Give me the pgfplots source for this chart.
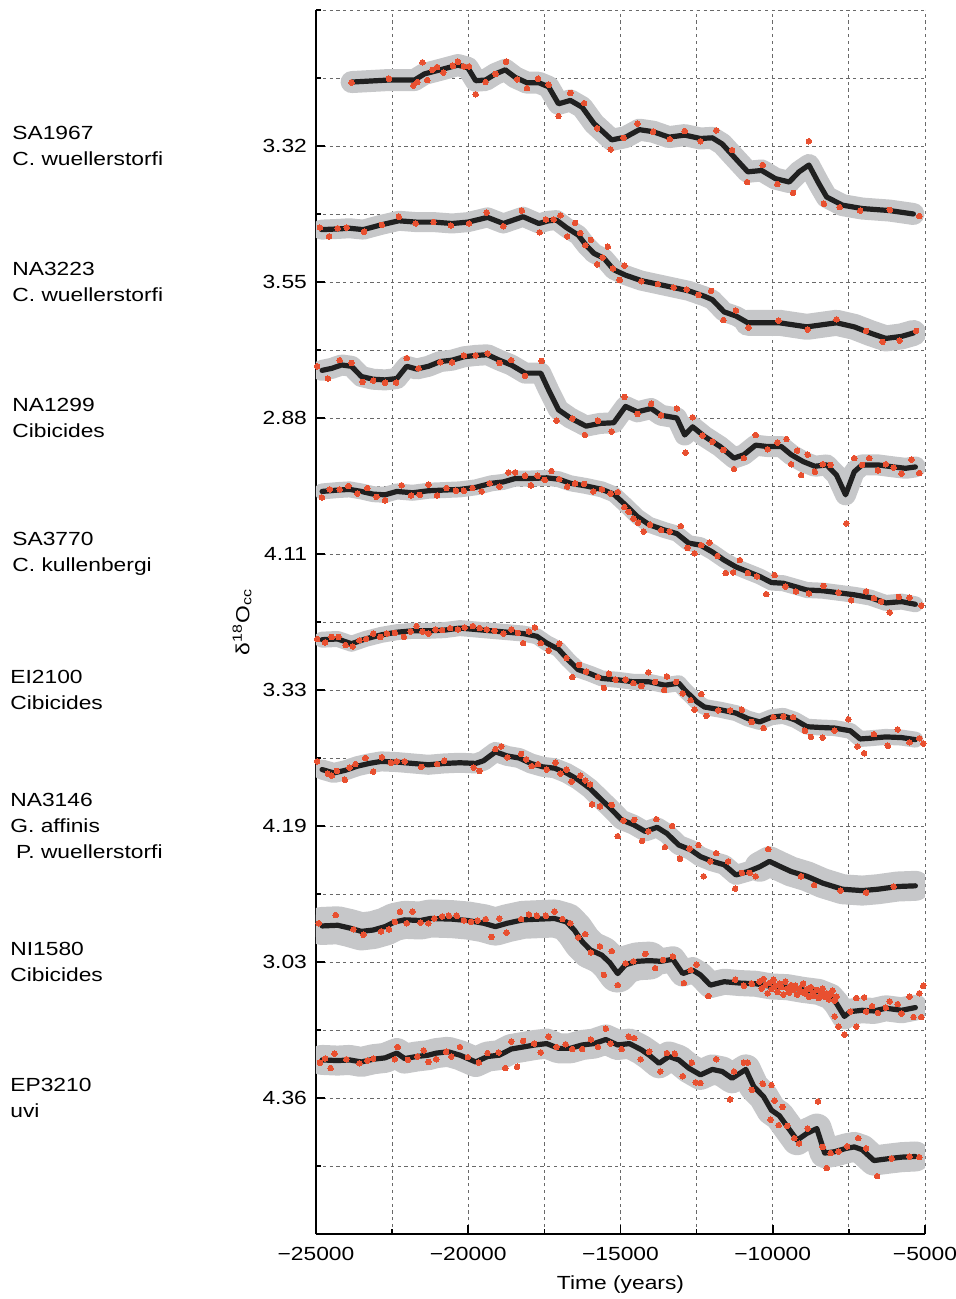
\documentclass[border=0pt]{standalone}
\usepackage{fontspec}
\setmainfont{Liberation Sans}[FakeStretch=1.2]
\usepackage{pgfplots}
\usepackage{pgfplotstable}
\pgfplotsset{compat=1.18}
\definecolor{bandgray}{RGB}{198,199,201}
\definecolor{dotred}{RGB}{232,80,48}
\definecolor{linedark}{RGB}{32,32,32}
\definecolor{gridgray}{RGB}{105,105,105}

% ---------------- SA1967 ----------------
\pgfplotstableread{
t u
-23830 16.94
-22604 16.97
-21762 16.97
-21439 17.06
-20921 17.12
-20338 17.19
-20014 17.15
-19755 16.96
-19431 16.97
-19108 17.06
-18784 17.12
-18460 17.01
-18072 16.93
-17683 16.93
-17360 16.87
-17036 16.62
-16647 16.67
-16259 16.57
-15870 16.33
-15288 16.09
-14834 16.13
-14381 16.24
-13928 16.21
-13410 16.13
-12892 16.16
-12374 16.11
-11985 16.12
-11661 16.03
-11273 15.84
-10820 15.62
-10366 15.64
-9913 15.52
-9460 15.47
-9136 15.62
-8812 15.72
-8489 15.45
-8230 15.25
-7712 15.13
-7064 15.08
-6158 15.05
-5381 15.00
}\lineA
\pgfplotstableread{
t u
-23834 16.93
-22604 16.99
-21801 16.89
-21672 16.94
-21503 17.23
-21348 16.97
-21179 17.12
-21024 17.16
-20817 17.08
-20506 17.18
-20338 17.24
-20143 17.17
-19975 17.17
-19755 16.76
-19431 16.94
-19107 17.06
-18758 17.24
-18395 16.98
-18071 16.85
-17709 16.99
-17359 16.90
-17035 16.44
-16647 16.78
-16194 16.63
-15766 16.26
-15326 15.95
-14899 16.12
-14445 16.33
-13927 16.21
-13384 16.10
-12891 16.22
-12373 16.07
-11855 16.23
-11337 15.94
-10845 15.47
-10327 15.72
-9848 15.44
-9330 15.31
-8812 16.07
-8320 15.15
-7802 15.10
-7129 15.05
-6157 15.06
-5186 14.97
}\dotsA
% ---------------- NA3223 ----------------
\pgfplotstableread{
t u
-24820 14.77
-24288 14.78
-23899 14.79
-23446 14.77
-22863 14.84
-22280 14.90
-21697 14.88
-21115 14.88
-20532 14.86
-20014 14.88
-19366 14.95
-18848 14.86
-18201 14.96
-17683 14.86
-17359 14.90
-17100 14.91
-16776 14.80
-16388 14.69
-16129 14.54
-15870 14.42
-15546 14.35
-15222 14.18
-14834 14.10
-14316 14.02
-13798 13.97
-13280 13.92
-12762 13.87
-12244 13.79
-11985 13.74
-11596 13.56
-11208 13.50
-10819 13.40
-10301 13.40
-9783 13.40
-8877 13.34
-7906 13.40
-7323 13.34
-6805 13.25
-6287 13.17
-5769 13.20
-5380 13.25
}\lineB
\pgfplotstableread{
t u
-24870 14.80
-24572 14.67
-24288 14.79
-23990 14.80
-23420 14.74
-22837 14.84
-22280 14.96
-21723 14.86
-21141 14.88
-20571 14.83
-19975 14.86
-19392 15.02
-18848 14.82
-18240 15.05
-17657 14.73
-17450 14.92
-17191 14.92
-16971 14.98
-16751 14.67
-16492 14.87
-16323 14.72
-16155 14.54
-15974 14.62
-15766 14.26
-15585 14.36
-15417 14.52
-15248 14.20
-15028 14.03
-14873 14.24
-14316 14.01
-13772 13.97
-13254 13.92
-12827 13.89
-12438 13.81
-12024 13.87
-11622 13.44
-11208 13.58
-10794 13.33
-9809 13.43
-8851 13.30
-7906 13.45
-6934 13.28
-6391 13.12
-5834 13.14
-5290 13.28
}\dotsB
% ---------------- NA1299 ----------------
\pgfplotstableread{
t u
-24800 12.70
-24482 12.73
-24158 12.78
-23834 12.76
-23510 12.61
-23122 12.57
-22733 12.56
-22345 12.58
-22021 12.76
-21697 12.72
-21309 12.76
-20920 12.83
-20532 12.85
-20143 12.90
-19755 12.92
-19366 12.93
-18978 12.85
-18589 12.78
-18136 12.66
-17618 12.66
-17359 12.41
-17035 12.12
-16647 12.00
-16129 11.88
-15676 11.92
-15222 11.93
-14834 12.17
-14445 12.09
-13992 12.14
-13668 12.04
-13150 12.00
-12891 11.75
-12632 11.87
-12244 11.73
-11726 11.58
-11273 11.41
-10949 11.46
-10560 11.60
-10172 11.58
-9719 11.58
-9395 11.46
-9006 11.36
-8618 11.29
-8229 11.31
-7906 11.16
-7608 10.87
-7323 11.21
-7064 11.31
-6546 11.31
-6028 11.28
-5639 11.26
-5316 11.28
}\lineC
\pgfplotstableread{
t u
-24961 12.76
-24611 12.58
-24223 12.85
-23834 12.81
-23472 12.53
-23122 12.55
-22733 12.52
-22371 12.52
-22021 12.88
-21633 12.73
-20920 12.82
-20532 12.82
-20143 12.92
-19755 12.92
-19366 12.95
-18978 12.81
-18589 12.85
-18136 12.62
-17592 12.84
-17100 11.96
-16582 11.99
-16168 11.75
-15740 11.96
-15287 11.80
-14873 12.31
-14445 12.06
-13992 12.21
-13668 12.04
-13150 12.14
-12866 11.49
-12632 12.01
-12309 11.74
-11985 11.65
-11622 11.53
-11273 11.25
-10949 11.41
-10560 11.75
-10172 11.54
-9848 11.64
-9550 11.69
-9395 11.32
-9201 11.52
-9071 11.16
-8851 11.46
-8618 11.21
-8359 11.32
-8100 11.31
-7582 10.45
-7323 11.41
-7064 11.31
-6831 11.41
-6546 11.23
-6287 11.32
-6028 11.27
-5769 11.18
-5445 11.39
-5186 11.19
}\dotsC
% ---------------- SA3770 ----------------
\pgfplotstableread{
t u
-24800 10.92
-24288 10.94
-23899 10.95
-23510 10.92
-23122 10.88
-22733 10.87
-22345 10.92
-21827 10.90
-21309 10.93
-20791 10.94
-20273 10.95
-19755 10.98
-19237 11.04
-18848 11.06
-18460 11.11
-17942 11.11
-17424 11.12
-17035 11.10
-16647 11.04
-16129 11.00
-15611 10.95
-15222 10.88
-14834 10.72
-14445 10.55
-14057 10.43
-13539 10.35
-13150 10.30
-12762 10.16
-12374 10.13
-11985 10.03
-11596 9.91
-11208 9.81
-10819 9.74
-10431 9.67
-10042 9.58
-9654 9.57
-9265 9.52
-8877 9.47
-8359 9.46
-7841 9.43
-7323 9.40
-6805 9.36
-6287 9.28
-5769 9.30
-5316 9.26
}\lineD
\pgfplotstableread{
t u
-24806 10.83
-24547 10.95
-24223 10.95
-23938 11.00
-23640 10.89
-23316 10.97
-23018 10.84
-22733 10.79
-22190 11.01
-21879 10.86
-21594 10.87
-21309 11.02
-21024 10.86
-20713 10.97
-20403 10.93
-20143 10.93
-19859 10.97
-19561 10.92
-19302 11.04
-18978 10.99
-18680 11.20
-18460 11.20
-18136 11.15
-17942 11.01
-17722 11.15
-17489 11.09
-17269 11.22
-17010 11.10
-16751 10.99
-16492 11.04
-16194 11.03
-15896 10.92
-15611 10.95
-15326 10.89
-15093 10.91
-14873 10.69
-14730 10.62
-14575 10.52
-14420 10.46
-14238 10.33
-14031 10.43
-13668 10.35
-13384 10.33
-13021 10.41
-12801 10.09
-12568 10.01
-12348 10.13
-12076 10.17
-11817 9.97
-11545 9.72
-11299 9.73
-11078 9.91
-10819 9.72
-10522 9.67
-10211 9.41
-9939 9.69
-9589 9.52
-9240 9.45
-8812 9.42
-8333 9.53
-7841 9.43
-7427 9.32
-6934 9.45
-6676 9.35
-6442 9.30
-6157 9.14
-5860 9.37
-5510 9.36
-5121 9.24
}\dotsD
% ---------------- EI2100 ----------------
\pgfplotstableread{
t u
-24800 8.74
-24288 8.75
-23834 8.68
-23381 8.75
-22863 8.81
-22345 8.85
-21827 8.87
-21309 8.87
-20791 8.88
-20273 8.91
-19755 8.89
-19237 8.87
-18719 8.85
-18201 8.83
-17748 8.79
-17424 8.69
-17035 8.60
-16712 8.44
-16388 8.30
-15999 8.24
-15611 8.17
-15093 8.15
-14575 8.12
-14057 8.12
-13539 8.07
-13086 8.10
-12891 8.00
-12503 7.83
-12244 7.75
-11726 7.71
-11208 7.66
-10819 7.58
-10431 7.53
-10042 7.60
-9654 7.62
-9265 7.56
-8877 7.46
-8488 7.45
-7970 7.44
-7452 7.40
-7129 7.28
-6805 7.29
-6287 7.31
-5769 7.30
-5316 7.27
}\lineE
\pgfplotstableread{
t u
-24961 8.75
-24702 8.70
-24482 8.78
-24262 8.78
-24028 8.66
-23795 8.64
-23575 8.73
-23355 8.75
-23122 8.83
-22889 8.78
-22669 8.83
-22410 8.84
-22112 8.78
-21892 8.86
-21697 8.94
-21503 8.86
-21309 8.83
-21076 8.89
-20856 8.88
-20597 8.91
-20338 8.89
-20118 8.92
-19846 8.94
-19626 8.91
-19392 8.89
-19133 8.87
-18848 8.83
-18589 8.89
-18369 8.84
-18201 8.69
-18007 8.86
-17812 8.92
-17618 8.69
-17359 8.58
-17010 8.68
-16776 8.47
-16582 8.19
-16362 8.37
-16129 8.27
-15740 8.19
-15546 8.03
-15378 8.24
-15158 8.15
-14834 8.15
-14575 8.10
-14316 8.06
-14083 8.26
-13863 8.12
-13565 8.00
-13474 8.20
-13176 8.12
-12956 7.95
-12697 7.85
-12568 7.71
-12348 7.94
-12179 7.62
-11791 7.70
-11402 7.70
-11014 7.71
-10690 7.53
-10301 7.44
-9978 7.60
-9654 7.61
-9330 7.60
-8942 7.40
-8747 7.31
-8359 7.30
-7970 7.40
-7517 7.57
-7219 7.17
-6999 7.07
-6676 7.35
-6222 7.18
-5898 7.42
-5510 7.23
-5186 7.29
-5057 7.21
}\dotsE
% ---------------- NA3146 ----------------
\pgfplotstableread{
t u
-24800 6.83
-24417 6.78
-24028 6.82
-23640 6.88
-23251 6.92
-22863 6.95
-22345 6.94
-21827 6.92
-21309 6.90
-20791 6.92
-20273 6.93
-19755 6.92
-19496 6.96
-19107 7.09
-18719 7.03
-18330 7.00
-17942 6.92
-17553 6.87
-17165 6.85
-16776 6.78
-16388 6.68
-15999 6.55
-15611 6.38
-15287 6.24
-14963 6.09
-14575 6.02
-14186 5.92
-13798 5.98
-13474 5.89
-13086 5.72
-12697 5.65
-12374 5.55
-11985 5.48
-11596 5.43
-11208 5.28
-10819 5.33
-10431 5.40
-10107 5.48
-9783 5.41
-9395 5.33
-8877 5.26
-8359 5.16
-7711 5.07
-7064 5.05
-6546 5.07
-5898 5.11
-5316 5.12
}\lineF
\pgfplotstableread{
t u
-24961 6.95
-24611 6.77
-24482 6.74
-24313 6.81
-24054 6.68
-23899 6.86
-23705 6.91
-23381 7.00
-23122 6.80
-22837 7.01
-22539 6.93
-22345 6.95
-22086 6.95
-21542 6.87
-21024 6.91
-20791 6.96
-19820 6.86
-19626 6.81
-19107 7.13
-18913 7.17
-18719 7.01
-18266 7.06
-18097 6.98
-17916 6.88
-17709 6.91
-17424 6.83
-17139 6.93
-16971 6.77
-16776 6.83
-16608 6.65
-16323 6.74
-16155 6.67
-15999 6.61
-15935 6.32
-15676 6.29
-15287 6.31
-15093 5.85
-14899 6.08
-14549 6.09
-14290 5.78
-14083 5.92
-13824 6.10
-13539 5.69
-13306 6.00
-13047 5.52
-12736 5.67
-12438 5.72
-12270 5.26
-12050 5.48
-11855 5.60
-11467 5.48
-11234 5.08
-11014 5.31
-10755 5.31
-10560 5.26
-10146 5.66
-9071 5.26
-8644 5.13
-7776 5.05
-6934 5.02
-6028 5.11
}\dotsF
% ---------------- NI1580 ----------------
\pgfplotstableread{
t u
-24800 4.53
-24288 4.54
-23899 4.50
-23510 4.45
-23122 4.47
-22733 4.52
-22410 4.59
-22086 4.62
-21568 4.61
-21244 4.64
-20532 4.63
-20014 4.61
-19496 4.57
-19107 4.52
-18719 4.57
-18201 4.62
-17683 4.63
-17165 4.64
-16776 4.59
-16517 4.47
-16258 4.30
-15999 4.18
-15611 4.10
-15352 3.99
-15093 3.83
-14834 3.96
-14445 4.01
-14057 4.02
-13668 4.01
-13280 4.04
-12956 3.83
-12632 3.88
-12374 3.81
-12050 3.66
-11596 3.71
-11078 3.69
-10560 3.68
-10042 3.64
-9524 3.63
-9006 3.59
-8488 3.56
-8100 3.49
-7906 3.39
-7647 3.20
-7452 3.27
-7064 3.29
-6676 3.28
-6287 3.32
-5769 3.29
-5316 3.33
}\lineG
\pgfplotstableread{
t u
-24909 4.57
-24352 4.69
-23770 4.48
-23446 4.40
-22863 4.45
-22604 4.48
-22410 4.59
-22241 4.74
-22021 4.57
-21827 4.74
-21568 4.58
-21309 4.57
-21115 4.64
-20856 4.67
-20636 4.68
-20377 4.68
-20143 4.61
-19910 4.59
-19690 4.61
-19431 4.63
-19237 4.37
-18978 4.64
-18745 4.43
-18266 4.63
-18007 4.70
-17748 4.68
-17450 4.68
-17165 4.74
-16906 4.63
-16647 4.57
-16388 4.36
-16155 4.41
-15974 4.14
-15676 4.23
-15546 3.81
-15287 4.16
-15093 3.66
-14834 3.98
-14575 4.01
-14186 4.12
-13863 3.91
-13604 4.03
-13280 4.08
-12917 3.69
-12697 3.88
-12503 3.96
-12114 3.50
-11234 3.74
-10949 3.65
-10690 3.68
-10431 3.71
-10366 3.61
-10301 3.75
-10237 3.66
-10172 3.54
-10107 3.69
-10042 3.60
-9978 3.74
-9913 3.65
-9848 3.56
-9783 3.68
-9719 3.63
-9654 3.52
-9589 3.71
-9524 3.61
-9460 3.55
-9395 3.66
-9330 3.59
-9265 3.65
-9201 3.52
-9136 3.61
-9071 3.56
-9006 3.68
-8942 3.54
-8877 3.60
-8812 3.49
-8747 3.63
-8683 3.55
-8618 3.50
-8553 3.59
-8488 3.47
-8424 3.55
-8359 3.61
-8294 3.49
-8229 3.54
-8165 3.45
-8100 3.52
-8035 3.58
-7970 3.43
-7906 3.49
-7970 3.20
-7841 3.05
-7647 2.93
-7452 3.27
-7258 3.47
-7258 3.05
-6999 3.48
-6934 3.27
-6740 3.35
-6546 3.25
-6287 3.33
-6157 3.42
-5898 3.38
-5769 3.24
-5510 3.49
-5380 3.19
-5186 3.54
-5121 3.19
-5057 3.65
}\dotsG
% ---------------- EP3210 ----------------
\pgfplotstableread{
t u
-24800 2.56
-24288 2.55
-23899 2.56
-23510 2.53
-23122 2.57
-22733 2.59
-22345 2.66
-22086 2.58
-21697 2.61
-21309 2.63
-21050 2.66
-20661 2.68
-20273 2.63
-19755 2.53
-19366 2.61
-18978 2.63
-18589 2.72
-18201 2.75
-17812 2.78
-17424 2.80
-17035 2.73
-16647 2.73
-16258 2.78
-15870 2.80
-15481 2.86
-15093 2.78
-14704 2.80
-14316 2.71
-14057 2.63
-13733 2.51
-13409 2.61
-13086 2.56
-12762 2.44
-12374 2.34
-11985 2.42
-11661 2.39
-11337 2.29
-10884 2.42
-10625 2.17
-10301 2.02
-10042 1.82
-9783 1.74
-9524 1.58
-9201 1.38
-8877 1.48
-8553 1.55
-8294 1.19
-7970 1.21
-7582 1.26
-7323 1.28
-7064 1.24
-6676 1.08
-6157 1.11
-5769 1.13
-5316 1.14
}\lineH
\pgfplotstableread{
t u
-24870 2.52
-24702 2.58
-24521 2.44
-24391 2.65
-24003 2.57
-23575 2.51
-23316 2.55
-23122 2.58
-22410 2.57
-22319 2.75
-21982 2.56
-21672 2.61
-21464 2.70
-21309 2.53
-21050 2.57
-20726 2.68
-20558 2.61
-20273 2.75
-20014 2.60
-19651 2.52
-19366 2.66
-19004 2.67
-18784 2.44
-18395 2.46
-18589 2.83
-18201 2.84
-17838 2.80
-17618 2.67
-17359 2.90
-17100 2.75
-16802 2.79
-16582 2.72
-16258 2.72
-15974 2.86
-15740 2.75
-15481 3.02
-15326 2.80
-14963 2.72
-14730 2.90
-14549 2.88
-14342 2.57
-14057 2.68
-13694 2.39
-13474 2.66
-13215 2.65
-12956 2.32
-12658 2.52
-12529 2.23
-12374 2.22
-11855 2.57
-11402 1.98
-11273 2.39
-10949 2.52
-10819 2.52
-10690 2.12
-10327 2.21
-10042 2.19
-10068 1.68
-9939 1.96
-9809 1.60
-9680 1.87
-9524 1.59
-9291 1.41
-9136 1.33
-8851 1.55
-8514 1.95
-8359 1.28
-8229 0.97
-8100 1.19
-7841 1.21
-7556 1.29
-7193 1.41
-6934 1.26
-6572 0.85
-6093 1.11
-5510 1.14
-5186 1.13
}\dotsH

\pgfplotsset{
  band/.style={bandgray, line join=round, line cap=round, forget plot},
  mean/.style={linedark, line width=2.6pt, line join=round, line cap=round, forget plot},
  obs/.style={only marks, mark=*, mark size=1.4pt, mark options={fill=dotred, draw=dotred, line width=0pt}, forget plot},
}

\begin{document}
\begin{tikzpicture}[font=\fontsize{9.5}{13}\selectfont]
\path[use as bounding box] (-158pt,-32.5pt) rectangle (319.5pt,617pt);
\begin{axis}[
  at={(0pt,0pt)}, anchor=south west,
  scale only axis, width=304.5pt, height=612pt,
  xmin=-25000, xmax=-5000, ymin=0, ymax=18,
  axis x line*=bottom, axis y line*=left,
  axis line style={line width=1pt, black},
  scaled x ticks=false, scaled y ticks=false,
  xtick={-25000,-20000,-15000,-10000,-5000},
  xticklabels={−25000,−20000,−15000,−10000,−5000},
  minor xtick={-22500,-17500,-12500,-7500},
  ytick={2,4,6,8,10,12,14,16},
  yticklabels={4.36,3.03,4.19,3.33,4.11,2.88,3.55,3.32},
  minor ytick={1,3,5,7,9,11,13,15,17,18},
  grid=both,
  major grid style={gridgray, line width=0.45pt, dash pattern=on 1.6pt off 1.8pt},
  minor grid style={gridgray, line width=0.45pt, dash pattern=on 1.6pt off 1.8pt},
  tick align=inside,
  major tick length=4.5pt, minor tick length=2.5pt,
  tick style={black, line width=0.8pt},
  xticklabel style={yshift=-3pt},
  yticklabel style={xshift=-1pt},
  xlabel={Time (years)},
  ylabel={δ\textsuperscript{18}O\textsubscript{cc}},
  xlabel style={at={(axis description cs:0.5,0)}, anchor=base, yshift=-27.5pt},
  ylabel style={at={(axis description cs:0,0.5)}, anchor=center, yshift=37pt},
  clip mode=individual,
]
% SA1967
\addplot[band, line width=11pt] table {\lineA};
\addplot[mean] table {\lineA};
\addplot[obs] table {\dotsA};
% NA3223
\addplot[band, line width=10pt] table {\lineB};
\addplot[band, line width=13pt, restrict x to domain=-11000:-5000] table {\lineB};
\addplot[mean] table {\lineB};
\addplot[obs] table {\dotsB};
% NA1299
\addplot[band, line width=10.5pt] table {\lineC};
\addplot[mean] table {\lineC};
\addplot[obs] table {\dotsC};
% SA3770
\addplot[band, line width=8pt] table {\lineD};
\addplot[mean] table {\lineD};
\addplot[obs] table {\dotsD};
% EI2100
\addplot[band, line width=8pt] table {\lineE};
\addplot[mean] table {\lineE};
\addplot[obs] table {\dotsE};
% NA3146
\addplot[band, line width=10pt] table {\lineF};
\addplot[band, line width=15pt, restrict x to domain=-10600:-5000] table {\lineF};
\addplot[mean] table {\lineF};
\addplot[obs] table {\dotsF};
% NI1580
\addplot[band, line width=13pt] table {\lineG};
\addplot[band, line width=19pt, restrict x to domain=-25000:-14000] table {\lineG};
\addplot[mean] table {\lineG};
\addplot[obs] table {\dotsG};
% EP3210
\addplot[band, line width=15pt] table {\lineH};
\addplot[mean] table {\lineH};
\addplot[obs] table {\dotsH};

\node[anchor=west, align=left, inner sep=0pt, xshift=-152pt] at (axis cs:-25000,16) {SA1967\\C. wuellerstorfi};
\node[anchor=west, align=left, inner sep=0pt, xshift=-152pt] at (axis cs:-25000,14) {NA3223\\C. wuellerstorfi};
\node[anchor=west, align=left, inner sep=0pt, xshift=-152pt] at (axis cs:-25000,12) {NA1299\\Cibicides};
\node[anchor=west, align=left, inner sep=0pt, xshift=-152pt] at (axis cs:-25000,10) {SA3770\\C. kullenbergi};
\node[anchor=west, align=left, inner sep=0pt, xshift=-153pt] at (axis cs:-25000,8) {EI2100\\Cibicides};
\node[anchor=west, align=left, inner sep=0pt, xshift=-153pt] at (axis cs:-25000,6) {NA3146\\G. affinis\\\hspace{0.3em}P. wuellerstorfi};
\node[anchor=west, align=left, inner sep=0pt, xshift=-153pt] at (axis cs:-25000,4) {NI1580\\Cibicides};
\node[anchor=west, align=left, inner sep=0pt, xshift=-153pt] at (axis cs:-25000,2) {EP3210\\uvi};
\end{axis}
\end{tikzpicture}
\end{document}
